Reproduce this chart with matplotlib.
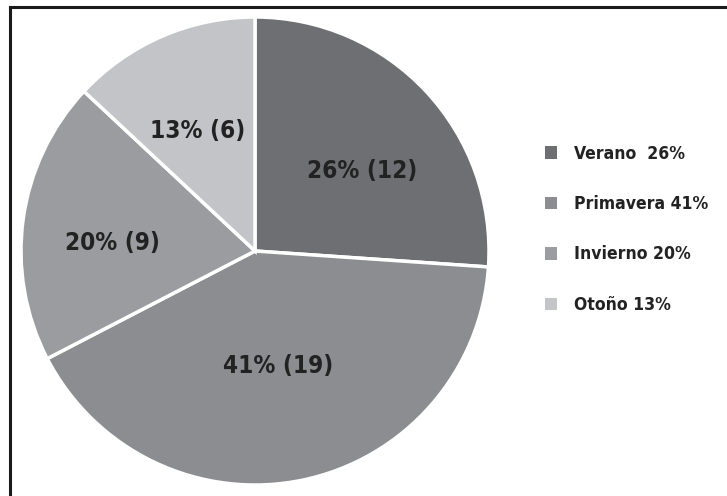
import matplotlib

matplotlib.use("Agg")
import matplotlib.pyplot as plt
import numpy as np
from matplotlib import font_manager
from matplotlib.lines import Line2D
from matplotlib.patches import Patch

seasons = ["Verano", "Primavera", "Invierno", "Otoño"]
counts = [12, 19, 9, 6]
percents = [26, 41, 20, 13]
legend_labels = ["Verano  26%", "Primavera 41%", "Invierno 20%", "Otoño 13%"]
colors = ["#6e6f73", "#8c8d91", "#9b9ca0", "#c3c4c7"]

# label layout inside the wedges (fraction of radius, angular nudge)
label_radius = [0.572, 0.50, 0.61, 0.57]
label_nudge_deg = [-6.5, -0.4, 4.6, 2.1]


def pick_narrow_bold():
    found = []
    for f in font_manager.fontManager.ttflist:
        narrow = ("Narrow" in f.name or "Condensed" in f.name
                  or "Condensed" in f.fname or "Narrow" in f.fname
                  or f.stretch in ("condensed", "semi-condensed", "extra-condensed"))
        w = f.weight if isinstance(f.weight, int) else 700 * (f.weight == "bold")
        if narrow and w >= 600 and "Oblique" not in f.fname and "Italic" not in f.fname:
            found.append(f.fname)
    found.sort()
    return found[0] if found else None


narrow_file = pick_narrow_bold()
if narrow_file:
    fp = font_manager.FontProperties(fname=narrow_file)
    big, small = 17.5, 12.6
else:
    fp = font_manager.FontProperties(family="DejaVu Sans", weight="bold")
    big, small = 14.5, 10.5

W, H = 727, 496
fig = plt.figure(figsize=(W / 100, H / 100), dpi=100)

cx, cy, r = 255, 251, 234
ax = fig.add_axes([(cx - r) / W, (H - cy - r) / H, 2 * r / W, 2 * r / H])

wedges, _ = ax.pie(
    counts,
    colors=colors,
    startangle=90,
    counterclock=False,
    wedgeprops=dict(edgecolor="white", linewidth=2.5),
)
for wedge, pct, cnt, rad, nudge in zip(wedges, percents, counts, label_radius, label_nudge_deg):
    theta = np.deg2rad((wedge.theta1 + wedge.theta2) / 2 + nudge)
    ax.text(
        rad * np.cos(theta),
        rad * np.sin(theta),
        f"{pct}% ({cnt})",
        fontproperties=fp,
        fontsize=big,
        color="#222222",
        ha="center",
        va="center",
    )
ax.set_xlim(-1, 1)
ax.set_ylim(-1, 1)
ax.set_aspect("equal")

leg_fp = fp.copy()
leg_fp.set_size(small)
handles = [Patch(facecolor=c, edgecolor="none") for c in colors]
fig.legend(
    handles,
    legend_labels,
    loc="upper left",
    bbox_to_anchor=(529 / W, 1 - 129 / H),
    frameon=False,
    prop=leg_fp,
    handlelength=0.72,
    handleheight=0.72,
    handletextpad=0.95,
    labelspacing=1.85,
    labelcolor="#222222",
)

# outer frame (top and left edges visible)
fig.add_artist(Line2D([10 / W, 10 / W], [0, 1 - 7 / H], color="#1a1a1a", lw=2.2, transform=fig.transFigure))
fig.add_artist(Line2D([10 / W, 1], [1 - 7 / H, 1 - 7 / H], color="#1a1a1a", lw=2.2, transform=fig.transFigure))

fig.savefig("out.png", dpi=100)
